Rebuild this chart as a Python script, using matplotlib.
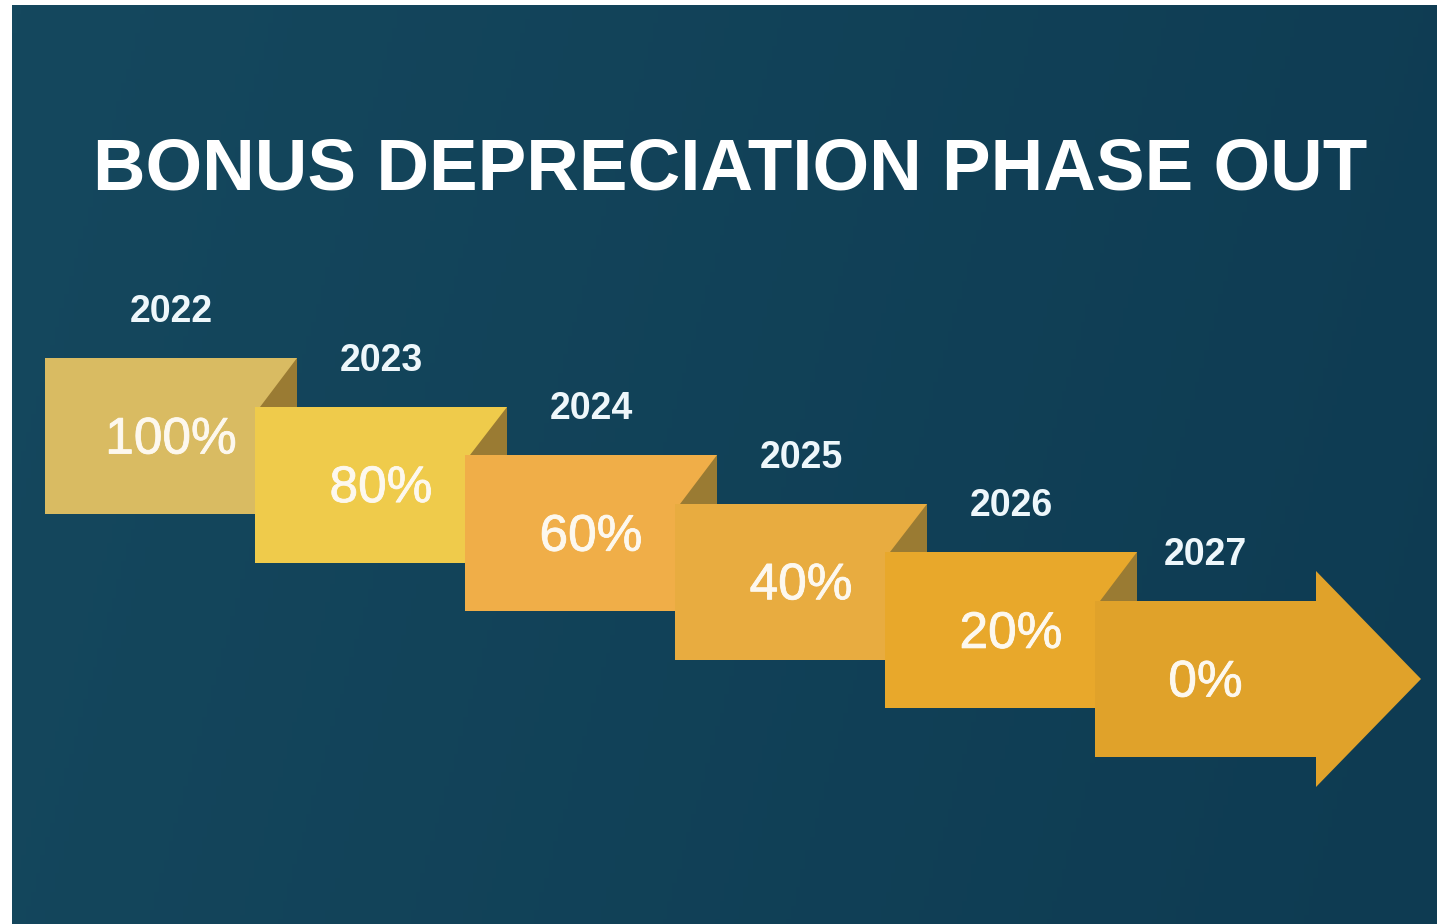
import numpy as np
import matplotlib.pyplot as plt
import matplotlib.patheffects as pe
from matplotlib.patches import Polygon, Rectangle
from matplotlib.colors import LinearSegmentedColormap

plt.rcParams['font.family'] = ['Liberation Sans', 'DejaVu Sans']

title = 'BONUS DEPRECIATION PHASE OUT'
years = ['2022', '2023', '2024', '2025', '2026', '2027']
rates = [100, 80, 60, 40, 20, 0]
box_colors = ['#d9bb62', '#efcb4b', '#f0ae48', '#e8ac40', '#e8a82b', '#e0a22a']
fold_color = '#9a7b33'

W, H = 1437, 924
fig = plt.figure(figsize=(W / 100, H / 100), dpi=100)
fig.patch.set_facecolor('white')
ax = fig.add_axes([0, 0, 1, 1])
ax.set_xlim(0, W)
ax.set_ylim(H, 0)
ax.axis('off')

# dark teal background, a bit lighter on the left
bg = LinearSegmentedColormap.from_list('bg', ['#15485e', '#0e3b52'])
gx = np.linspace(0, 1, 300)
gy = np.linspace(0, 1, 200)
grad = 0.85 * gx[None, :] + 0.15 * gy[:, None]
ax.imshow(grad, extent=(12, W, H, 5), cmap=bg, aspect='auto', zorder=0)

ax.text(730, 170, title, color='white', fontsize=52.5, fontweight='bold',
        ha='center', va='center', zorder=20)

# staircase of boxes
x0, y0 = 45, 358
dx, dy = 210, 48.6
bw, bh = 252, 156
n = len(years)
thick = [pe.withStroke(linewidth=0.6, foreground='#fdf8ee')]
for i, (yr, r, c) in enumerate(zip(years, rates, box_colors)):
    x = x0 + i * dx
    y = y0 + i * dy
    if i < n - 1:
        ax.add_patch(Rectangle((x, y), bw, bh, fc=c, ec='none', zorder=2 + i))
        ax.add_patch(Polygon([(x + bw, y), (x + bw, y + dy), (x + bw - 37, y + dy)],
                             closed=True, fc=fold_color, ec='none', zorder=2 + i))
        cx = x + bw / 2
    else:
        body = 221
        head = 105
        hh = 108
        pts = [(x, y), (x + body, y), (x + body, y + bh / 2 - hh),
               (x + body + head, y + bh / 2), (x + body, y + bh / 2 + hh),
               (x + body, y + bh), (x, y + bh)]
        ax.add_patch(Polygon(pts, closed=True, fc=c, ec='none', zorder=2 + i))
        cx = x + body / 2
    ax.text(cx, y + 82, f'{r}%', color='#fdf8ee', fontsize=37,
            ha='center', va='center', zorder=20, path_effects=thick)
    ax.text(cx, y - 46, yr, color='#eef7fb', fontsize=27, fontweight='bold',
            ha='center', va='center', zorder=20)

fig.savefig('out.png', dpi=100, facecolor=fig.get_facecolor())
